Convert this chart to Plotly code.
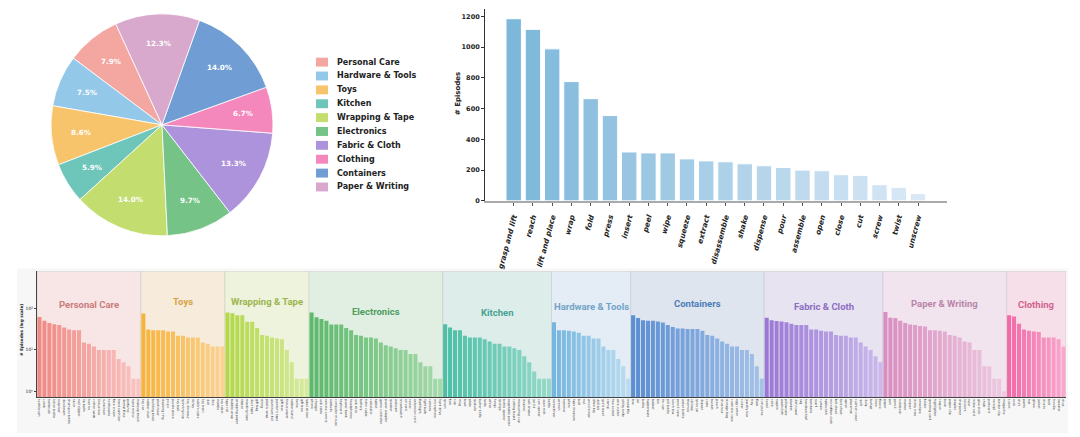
import plotly.graph_objects as go
import math

W, H = 1080, 437

# ---------------- data ----------------
pie_labels = ["Personal Care", "Hardware & Tools", "Toys", "Kitchen", "Wrapping & Tape",
              "Electronics", "Fabric & Cloth", "Clothing", "Containers", "Paper & Writing"]
pie_values = [7.9, 7.5, 8.6, 5.9, 14.0, 9.7, 13.3, 6.7, 14.0, 12.3]

skills = ["grasp and lift", "reach", "lift and place", "wrap", "fold", "press", "insert", "peel",
          "wipe", "squeeze", "extract", "disassemble", "shake", "dispense", "pour", "assemble",
          "open", "close", "cut", "screw", "twist", "unscrew"]
skill_counts = [1185, 1116, 989, 776, 665, 555, 318, 312, 312, 273, 260, 254, 241, 228, 217,
                200, 196, 170, 166, 105, 88, 47]

groups = ["Personal Care", "Toys", "Wrapping & Tape", "Electronics", "Kitchen",
          "Hardware & Tools", "Containers", "Fabric & Cloth", "Paper & Writing", "Clothing"]

pc_names = ["toothbrush", "comb", "hairbrush", "lotion bottle", "soap bar", "deodorant",
            "shampoo bottle", "razor", "nail clipper", "lip balm", "hair tie", "cotton swab",
            "tissue box", "sunscreen", "toothpaste", "face cream", "hand sanitizer",
            "dental floss", "perfume", "hand mirror", "makeup brush"]
pc_vals = [63, 51, 45, 42, 40, 35, 31, 30, 30, 15, 14, 12, 10, 10, 10, 10, 6, 5, 4, 2, 2]

toy_names = ["toy car", "rubber duck", "building block", "plush bear", "stacking ring", "yo-yo",
             "puzzle piece", "toy ball", "spinning top", "toy dinosaur", "slinky", "rubik's cube",
             "toy train", "doll", "dice", "marble", "toy robot"]
toy_vals = [76, 31, 30, 30, 30, 28, 28, 22, 22, 20, 20, 20, 15, 14, 12, 12, 12]

wrap_names = ["tape roll", "bubble wrap", "wrapping paper", "ribbon", "masking tape", "duct tape",
              "gift bag", "string", "plastic wrap", "aluminum foil", "painter's tape", "gift box",
              "tissue paper", "rubber band", "twine", "gift bow", "label sticker"]
wrap_vals = [80, 77, 69, 69, 48, 48, 34, 23, 22, 20, 19, 18, 10, 5, 2, 2, 2]

elec_names = ["phone", "charger", "usb cable", "remote control", "earbuds", "computer mouse",
              "keyboard", "power bank", "headphones", "usb stick", "battery", "hdmi cable",
              "calculator", "tablet", "game controller", "power adapter", "speaker", "webcam",
              "smartwatch", "sd card", "router", "extension cord", "flashlight", "light bulb",
              "camera", "microphone", "hard drive"]
elec_vals = [80, 62, 56, 51, 41, 41, 41, 34, 30, 23, 22, 20, 20, 19, 15, 13, 12, 11, 10, 10,
             8, 8, 5, 4, 4, 2, 2]

kit_names = ["spoon", "fork", "cup", "mug", "bowl", "plate", "spatula", "butter knife", "ladle",
             "whisk", "tongs", "sponge", "bottle opener", "vegetable peeler", "cutting board",
             "measuring cup", "strainer", "salt shaker", "jar lid", "can opener", "oven mitt",
             "kettle"]
kit_vals = [42, 35, 30, 30, 22, 20, 20, 20, 18, 16, 14, 14, 12, 12, 11, 10, 7, 5, 3, 2, 2, 2]

hw_names = ["screwdriver", "wrench", "hammer", "pliers", "tape measure", "bolt", "nut",
            "wood screw", "allen key", "drill bit", "spirit level", "clamp", "hex socket",
            "wire cutter", "utility knife", "metal file"]
hw_vals = [47, 30, 30, 29, 28, 26, 22, 22, 19, 19, 12, 10, 10, 6, 4, 2]

cont_names = ["box", "jar", "bottle", "tupperware", "basket", "bin", "tin can", "pill bottle",
              "lunch box", "pencil case", "water bottle", "thermos", "zip bag", "spice jar",
              "drawer", "crate", "bucket", "pouch", "shoe box", "storage bag", "cosmetic case",
              "egg carton", "cooler", "jewelry box", "tray", "flask", "coin purse"]
cont_vals = [69, 59, 52, 51, 51, 49, 46, 40, 36, 33, 33, 32, 32, 32, 29, 23, 22, 19, 16, 14,
             12, 12, 10, 10, 8, 4, 2]

fab_names = ["towel", "cloth", "napkin", "washcloth", "pillowcase", "blanket", "dish towel", "rag",
             "handkerchief", "bandana", "scarf", "curtain", "tablecloth", "microfiber cloth",
             "felt sheet", "bed sheet", "apron", "placemat", "cushion cover", "quilt", "doily",
             "burlap", "linen", "fleece"]
fab_vals = [60, 52, 50, 49, 47, 43, 40, 40, 40, 31, 31, 29, 28, 28, 23, 22, 22, 20, 20, 15, 12,
            10, 7, 5]

pap_names = ["paper", "pen", "pencil", "notebook", "marker", "eraser", "sticky note", "envelope",
             "folder", "greeting card", "highlighter", "crayon", "book", "paper clip", "stapler",
             "sharpener", "scissors", "ruler", "index card", "glue stick", "chalk", "postcard",
             "receipt", "binder clip", "magazine"]
pap_vals = [83, 60, 59, 51, 45, 41, 40, 38, 37, 30, 30, 29, 28, 23, 22, 20, 16, 15, 10, 10, 4,
            4, 2, 2, 1]

clo_names = ["t-shirt", "sock", "shirt", "pants", "hat", "glove", "jacket", "shorts", "belt",
             "hoodie", "sweater", "shoe"]
clo_vals = [69, 64, 43, 31, 29, 28, 27, 20, 20, 20, 18, 12]

group_names = [pc_names, toy_names, wrap_names, elec_names, kit_names, hw_names, cont_names,
               fab_names, pap_names, clo_names]
group_vals = [pc_vals, toy_vals, wrap_vals, elec_vals, kit_vals, hw_vals, cont_vals, fab_vals,
              pap_vals, clo_vals]

log_ticks = [1, 10, 100]
log_ticktext = ["10\u2070", "10\u00b9", "10\u00b2"]

# ---------------- styles ----------------
pie_colors = {"Personal Care": "#f4a7a1", "Hardware & Tools": "#93c8e8", "Toys": "#f8c46b",
              "Kitchen": "#6dc6b9", "Wrapping & Tape": "#c3dd6f", "Electronics": "#75c387",
              "Fabric & Cloth": "#ad93db", "Clothing": "#f488bc", "Containers": "#6f9dd4",
              "Paper & Writing": "#d8a9cc"}

grp_style = {
    "Personal Care":    ("#f08a84", "#f9c4c1", "#f8e6e6", "#c97d7d"),
    "Toys":             ("#f7b43c", "#fad293", "#f7ecdc", "#d6a245"),
    "Wrapping & Tape":  ("#b3d849", "#d6ea9c", "#eef3dd", "#9bb54e"),
    "Electronics":      ("#5db96b", "#a4d9a9", "#e1efe3", "#4f9e5e"),
    "Kitchen":          ("#4cbfa6", "#94d9c9", "#ddedea", "#47a393"),
    "Hardware & Tools": ("#74b6df", "#badcf0", "#e4edf5", "#72a3c7"),
    "Containers":       ("#5b8ed3", "#a5c2e8", "#dee5ef", "#4d7db8"),
    "Fabric & Cloth":   ("#9b78d6", "#c9b9ec", "#e7e3f1", "#8b6dc2"),
    "Paper & Writing":  ("#d98ec0", "#edc9e0", "#f1e4ee", "#b984a9"),
    "Clothing":         ("#f26aa8", "#f9a7cc", "#f6dfe9", "#d2638f"),
}
# caption heights (episodes, log axis) for the section titles
title_levels = [123, 145, 151, 83, 79, 110, 132, 112, 132, 129]

PIE_START = 114.6      # degrees (math convention) where the first wedge starts
PCT_DIST = 0.73        # radial position of percentage labels


def hex2rgb(h):
    h = h.lstrip("#")
    return tuple(int(h[i:i + 2], 16) for i in (0, 2, 4))


def lerp(c1, c2, t):
    a, b = hex2rgb(c1), hex2rgb(c2)
    return "rgb(%d,%d,%d)" % tuple(round(a[i] + (b[i] - a[i]) * t) for i in range(3))


def px(x):
    return x / W


def py(y):
    return 1 - y / H


fig = go.Figure()
shapes = []
annotations = []

# ---------------- pie ----------------
cx, cy, r = 162, 126, 112
first_span = 360 * pie_values[0] / sum(pie_values)
# plotly: with counterclockwise direction the first slice occupies [rotation, rotation+span]
# measured clockwise from 12 o'clock
rotation = (90 - PIE_START) - first_span
fig.add_trace(go.Pie(
    labels=pie_labels, values=pie_values, sort=False, direction="counterclockwise",
    rotation=rotation,
    marker=dict(colors=[pie_colors[l] for l in pie_labels], line=dict(color="white", width=0.8)),
    textinfo="none",
    domain=dict(x=[px(cx - r), px(cx + r)], y=[py(cy + r), py(cy - r)]),
    showlegend=False, hoverinfo="label+percent",
))
tot = sum(pie_values)
ang = PIE_START
for v in pie_values:
    span = 360 * v / tot
    mid = math.radians(ang + span / 2)
    annotations.append(dict(xref="paper", yref="paper",
                            x=px(cx + PCT_DIST * r * math.cos(mid)),
                            y=py(cy - PCT_DIST * r * math.sin(mid)),
                            text="%.1f%%" % v, showarrow=False, xanchor="center",
                            yanchor="middle",
                            font=dict(family="DejaVu Sans", size=7.2, color="white",
                                      weight="bold")))
    ang += span

# manual legend (compact, matplotlib-like)
for i, lab in enumerate(pie_labels):
    yc = 62.7 + 14.0 * i
    shapes.append(dict(type="rect", xref="paper", yref="paper", x0=px(316), x1=px(328),
                       y0=py(yc + 4.5), y1=py(yc - 4.5), fillcolor=pie_colors[lab],
                       line=dict(width=0)))
    annotations.append(dict(xref="paper", yref="paper", x=px(335), y=py(yc), text=lab,
                            showarrow=False, xanchor="left", yanchor="middle",
                            font=dict(family="DejaVu Sans", size=8, color="#222", weight="bold")))

# ---------------- skills bar chart ----------------
n = len(skills)
bar_cols = [lerp("#7db7da", "#d9e8f5", i / (n - 1)) for i in range(n)]
fig.add_trace(go.Bar(
    x=skills, y=skill_counts, marker=dict(color=bar_cols, line=dict(color="white", width=1)),
    width=0.8, xaxis="x", yaxis="y", showlegend=False,
))

# ---------------- object bar chart (log) ----------------
all_names = []
start = 0
for g, names, vals, lvl in zip(groups, group_names, group_vals, title_levels):
    c0, c1, bg, tc = grp_style[g]
    m = len(vals)
    cols = [lerp(c0, c1, i / max(m - 1, 1)) for i in range(m)]
    fig.add_trace(go.Bar(x=names, y=vals, marker=dict(color=cols, line=dict(width=0)),
                         width=0.82, xaxis="x2", yaxis="y2", showlegend=False, name=g))
    shapes.append(dict(type="rect", xref="x2", yref="y2 domain", x0=start - 0.5,
                       x1=start + m - 0.5, y0=0, y1=1, fillcolor=bg,
                       line=dict(color="rgba(150,150,150,0.25)", width=0.8), layer="below"))
    annotations.append(dict(xref="x2", yref="y2", x=start + (m - 1) / 2, y=math.log10(lvl),
                            text=g, showarrow=False, xanchor="center", yanchor="middle",
                            font=dict(family="Liberation Sans Narrow, Roboto", size=9.5,
                                      color=tc, weight="bold")))
    all_names += names
    start += m

# gray panel behind the bottom chart
shapes.insert(0, dict(type="rect", xref="paper", yref="paper", x0=px(17), x1=px(1068),
                      y0=0, y1=py(271), fillcolor="#f7f7f7", line=dict(width=0), layer="below"))

# axis titles
annotations.append(dict(xref="paper", yref="paper", x=px(458), y=py(95), text="# Episodes",
                        textangle=-90, showarrow=False, xanchor="center", yanchor="middle",
                        font=dict(family="DejaVu Sans", size=7, color="#222", weight="bold")))
annotations.append(dict(xref="paper", yref="paper", x=px(22), y=py(333),
                        text="# Episodes (log scale)", textangle=-90, showarrow=False,
                        xanchor="center", yanchor="middle",
                        font=dict(family="DejaVu Sans", size=4.2, color="#222", weight="bold")))

fig.update_layout(
    width=W, height=H, margin=dict(l=0, r=0, t=0, b=0),
    paper_bgcolor="white", plot_bgcolor="rgba(0,0,0,0)",
    shapes=shapes, annotations=annotations, bargap=0.2,
    xaxis=dict(domain=[px(485), px(946.7)], range=[-1.49, n - 1 + 1.49], type="category",
               tickangle=-75, showgrid=False, zeroline=False, showline=True,
               linecolor="#aaaaaa", linewidth=1.5, ticks="outside", ticklen=3,
               tickcolor="#555", ticklabelstandoff=4,
               tickfont=dict(family="DejaVu Sans", size=7.3, color="#222", weight="bold",
                             style="italic")),
    yaxis=dict(domain=[py(202.7), py(9.3)], range=[0, 1247], anchor="x",
               tickvals=[0, 200, 400, 600, 800, 1000, 1200], showgrid=False, zeroline=False,
               showline=True, linecolor="#333", linewidth=1, ticks="outside", ticklen=3,
               tickcolor="#333",
               tickfont=dict(family="DejaVu Sans", size=6.5, color="#222", weight="bold")),
    xaxis2=dict(domain=[px(37), px(1066)], range=[-0.5, len(all_names) - 0.5], anchor="y2",
                type="category", categoryorder="array", categoryarray=all_names,
                tickmode="linear", tick0=0, dtick=1,
                tickangle=90, showgrid=False, zeroline=False, showline=True, linecolor="#444",
                linewidth=1, ticks="", tickfont=dict(family="DejaVu Sans", size=3.2,
                                                     color="#333")),
    yaxis2=dict(domain=[py(401), py(274)], type="log", range=[-0.15, 2.9], anchor="x2",
                tickmode="array", tickvals=log_ticks, ticktext=log_ticktext,
                showgrid=False, zeroline=False, showline=True, linecolor="#444", linewidth=1,
                ticks="outside", ticklen=2, tickcolor="#444",
                tickfont=dict(family="DejaVu Sans", size=4.5, color="#222")),
)

fig.write_html("out.html")
